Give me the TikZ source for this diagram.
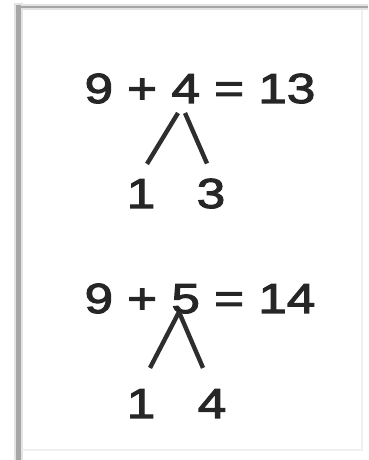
\documentclass[tikz,border=0pt]{standalone}
\usepackage{fontspec}
\newfontfamily\digitfont[FakeStretch=1.22,FakeBold=2.6]{Liberation Sans}
\usepackage{tikz}
\usetikzlibrary{positioning}

\begin{document}
\begin{tikzpicture}[
    x=1pt, y=1pt,
    eqn/.style={inner sep=0pt, anchor=base, text=black!85,
      font=\digitfont\fontsize{42}{42}\selectfont},
    part/.style={eqn},
    branch/.style={line width=4.4pt, draw=black!82},
    frameline/.style={draw=gray!70, line width=4.5pt},
    framehalo/.style={draw=gray!22, line width=9pt}
  ]
    \useasboundingbox (0,0) rectangle (368,460);
    % frame
    \draw[framehalo] (18.5,0) -- (18.5,457);
    \draw[framehalo, line width=6pt] (14,453) -- (368,453);
    \draw[frameline] (18.5,0) -- (18.5,455);
    \draw[frameline, line width=2.5pt] (16,453) -- (368,453);
    \draw[draw=gray!12, line width=2pt] (362,450) -- (362,10) -- (22,10);

    % first sum
    \node[eqn] (eqA) at (200,357) {9 + 4 = 13};
    \node[part] (oneA) at (141,252) {1};
    \node[part] (threeA) at (211,252) {3};
    \coordinate (apexA) at (181.5,347);
    \draw[branch] ([xshift=-3.5pt]apexA) -- ([xshift=6pt,yshift=15pt]oneA.north);
    \draw[branch] ([xshift=3.5pt]apexA) -- ([xshift=-4pt,yshift=15pt]threeA.north);

    % second sum
    \node[eqn] (eqB) at (200,147) {9 + 5 = 14};
    \node[part] (oneB) at (141,42) {1};
    \node[part] (fourB) at (212,42) {4};
    \coordinate (apexB) at (179,148);
    \draw[branch] (apexB) -- ([xshift=9pt,yshift=21pt]oneB.north);
    \draw[branch] (apexB) -- ([xshift=-9pt,yshift=21pt]fourB.north);
\end{tikzpicture}
\end{document}
